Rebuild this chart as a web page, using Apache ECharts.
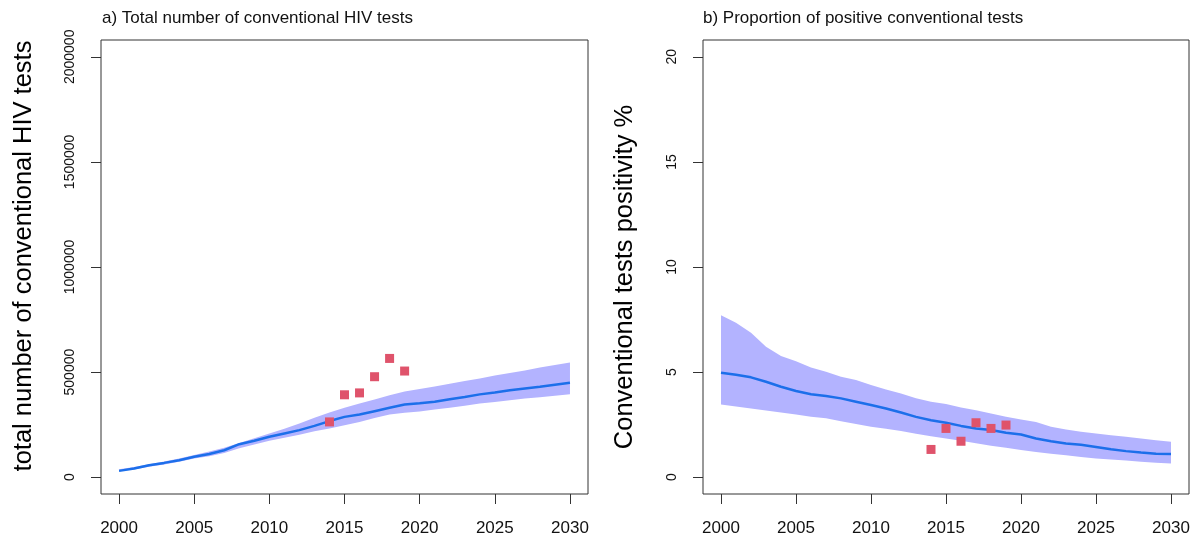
<!DOCTYPE html>
<html>
<head>
<meta charset="utf-8">
<script src="https://cdn.jsdelivr.net/npm/echarts@6/dist/echarts.min.js"></script>
<style>
  html, body { margin: 0; padding: 0; background: #fff; }
  #chart { width: 1203px; height: 543px; }
</style>
</head>
<body>
<div id="chart"></div>
<script>
// Model years 2000-2030
const years = [2000,2001,2002,2003,2004,2005,2006,2007,2008,2009,2010,2011,2012,2013,2014,2015,
               2016,2017,2018,2019,2020,2021,2022,2023,2024,2025,2026,2027,2028,2029,2030];

// a) total conventional HIV tests: median and 95% band
const testsMedian = [30000,41000,57000,68000,81000,97000,110000,128000,157000,173000,192000,208000,224000,244000,267000,287000,
                     298000,314000,330000,346000,352000,359000,371000,382000,394000,403000,414000,422000,430000,440000,449000];
const testsUpper  = [38000,48000,62000,75000,89000,105000,122000,140000,163000,185000,208000,230000,255000,283000,308000,330000,
                     350000,370000,390000,408000,420000,432000,445000,458000,470000,484000,496000,508000,522000,534000,546000];
const testsLower  = [30000,37000,50000,60000,73000,89000,100000,115000,138000,155000,173000,188000,202000,218000,232000,247000,
                     263000,282000,298000,306000,312000,322000,330000,340000,350000,358000,366000,374000,380000,387000,394000];
// observed tests
const obsYears = [2014,2015,2016,2017,2018,2019];
const testsObserved = [263000,392000,401000,478000,565000,505000];

// b) positivity of conventional tests (%)
const posMedian = [4.97,4.87,4.75,4.54,4.30,4.10,3.95,3.86,3.75,3.59,3.43,3.27,3.08,2.87,2.71,2.59,
                   2.44,2.32,2.24,2.11,2.03,1.84,1.71,1.60,1.54,1.44,1.33,1.24,1.17,1.11,1.10];
const posUpper  = [7.71,7.35,6.87,6.20,5.76,5.52,5.22,5.02,4.78,4.62,4.38,4.17,3.98,3.75,3.59,3.48,
                   3.32,3.19,3.03,2.87,2.75,2.62,2.40,2.27,2.16,2.08,2.00,1.92,1.84,1.76,1.68];
const posLower  = [3.46,3.36,3.27,3.17,3.08,2.98,2.88,2.80,2.66,2.53,2.40,2.31,2.20,2.07,1.95,1.84,
                   1.73,1.61,1.50,1.40,1.29,1.20,1.12,1.04,0.96,0.89,0.84,0.79,0.74,0.69,0.65];
const posObserved = [1.32,2.32,1.71,2.59,2.32,2.48];

// axis ticks
const xTicks = [2000,2005,2010,2015,2020,2025,2030];
const yTicksTests = [0,500000,1000000,1500000,2000000];
const yTicksPos = [0,5,10,15,20];

const FONT = '"Liberation Sans", Arial, sans-serif';
const AXIS_COLOR = '#333333';
const BAND = '#B3B3FF';
const LINE = '#1C6FEA';
const POINT = '#DF536B';

const pairs = (xs, ys) => xs.map((x, i) => [x, ys[i]]);

function xAxis(gridIndex) {
  return {
    type: 'value', gridIndex, min: 1998.8, max: 2031.2,
    splitLine: { show: false },
    axisLine: { show: false, onZero: false },
    axisTick: { show: true, inside: false, length: 10, customValues: xTicks,
                lineStyle: { color: AXIS_COLOR, width: 1 } },
    axisLabel: { show: true, customValues: xTicks, margin: 26, color: '#111',
                 fontFamily: FONT, fontSize: 17, formatter: v => String(v) }
  };
}
function yAxis(gridIndex, ticks, lo, hi) {
  return {
    type: 'value', gridIndex, min: lo, max: hi,
    splitLine: { show: false },
    axisLine: { show: false, onZero: false },
    axisTick: { show: true, inside: false, length: 10, customValues: ticks,
                lineStyle: { color: AXIS_COLOR, width: 1 } },
    axisLabel: { show: true, customValues: ticks, rotate: 90, margin: 24, color: '#111',
                 fontFamily: FONT, fontSize: 14, formatter: v => String(v) }
  };
}
// vertical axis title, reading bottom to top
function axisTitle(text, x, y) {
  return {
    type: 'text', x, y, rotation: Math.PI / 2, silent: true,
    style: { text, fontFamily: FONT, fontSize: 25.5, fill: '#000',
             align: 'center', verticalAlign: 'middle' }
  };
}
// shaded uncertainty band: one polygon through upper then reversed lower bounds
function bandSeries(idx, up, lo) {
  return {
    type: 'custom', xAxisIndex: idx, yAxisIndex: idx, silent: true, z: 1, clip: true,
    data: [[years[0], up[0]]],
    renderItem: (params, api) => {
      const top = years.map((y, i) => api.coord([y, up[i]]));
      const bottom = years.map((y, i) => api.coord([y, lo[i]])).reverse();
      return { type: 'polygon', shape: { points: top.concat(bottom) },
               style: { fill: BAND, stroke: null } };
    }
  };
}

const chart = echarts.init(document.getElementById('chart'), null, { renderer: 'canvas' });
chart.setOption({
  animation: false,
  backgroundColor: '#ffffff',
  title: [
    { text: 'a) Total number of conventional HIV tests', left: 97, top: 5,
      textStyle: { fontFamily: FONT, fontSize: 17, fontWeight: 'normal', color: '#111' } },
    { text: 'b) Proportion of positive conventional tests', left: 698, top: 5,
      textStyle: { fontFamily: FONT, fontSize: 17, fontWeight: 'normal', color: '#111' } }
  ],
  graphic: [
    axisTitle('total number of conventional HIV tests', 24, 256),
    axisTitle('Conventional tests positivity %', 625, 277)
  ],
  grid: [
    { left: 101, right: 615, top: 40, bottom: 49, show: true, borderColor: AXIS_COLOR, borderWidth: 1,
      backgroundColor: 'transparent', containLabel: false },
    { left: 703, right: 14, top: 40, bottom: 49, show: true, borderColor: AXIS_COLOR, borderWidth: 1,
      backgroundColor: 'transparent', containLabel: false }
  ],
  xAxis: [xAxis(0), xAxis(1)],
  yAxis: [
    yAxis(0, yTicksTests, -80000, 2080000),
    yAxis(1, yTicksPos, -0.8, 20.8)
  ],
  series: [
    bandSeries(0, testsUpper, testsLower),
    { type: 'line', xAxisIndex: 0, yAxisIndex: 0, data: pairs(years, testsMedian), symbol: 'none',
      lineStyle: { color: LINE, width: 2.5 }, z: 3 },
    { type: 'scatter', xAxisIndex: 0, yAxisIndex: 0, data: pairs(obsYears, testsObserved),
      symbol: 'rect', symbolSize: 9, itemStyle: { color: POINT, opacity: 1 }, z: 4 },
    bandSeries(1, posUpper, posLower),
    { type: 'line', xAxisIndex: 1, yAxisIndex: 1, data: pairs(years, posMedian), symbol: 'none',
      lineStyle: { color: LINE, width: 2.5 }, z: 3 },
    { type: 'scatter', xAxisIndex: 1, yAxisIndex: 1, data: pairs(obsYears, posObserved),
      symbol: 'rect', symbolSize: 9, itemStyle: { color: POINT, opacity: 1 }, z: 4 }
  ]
});
</script>
</body>
</html>
